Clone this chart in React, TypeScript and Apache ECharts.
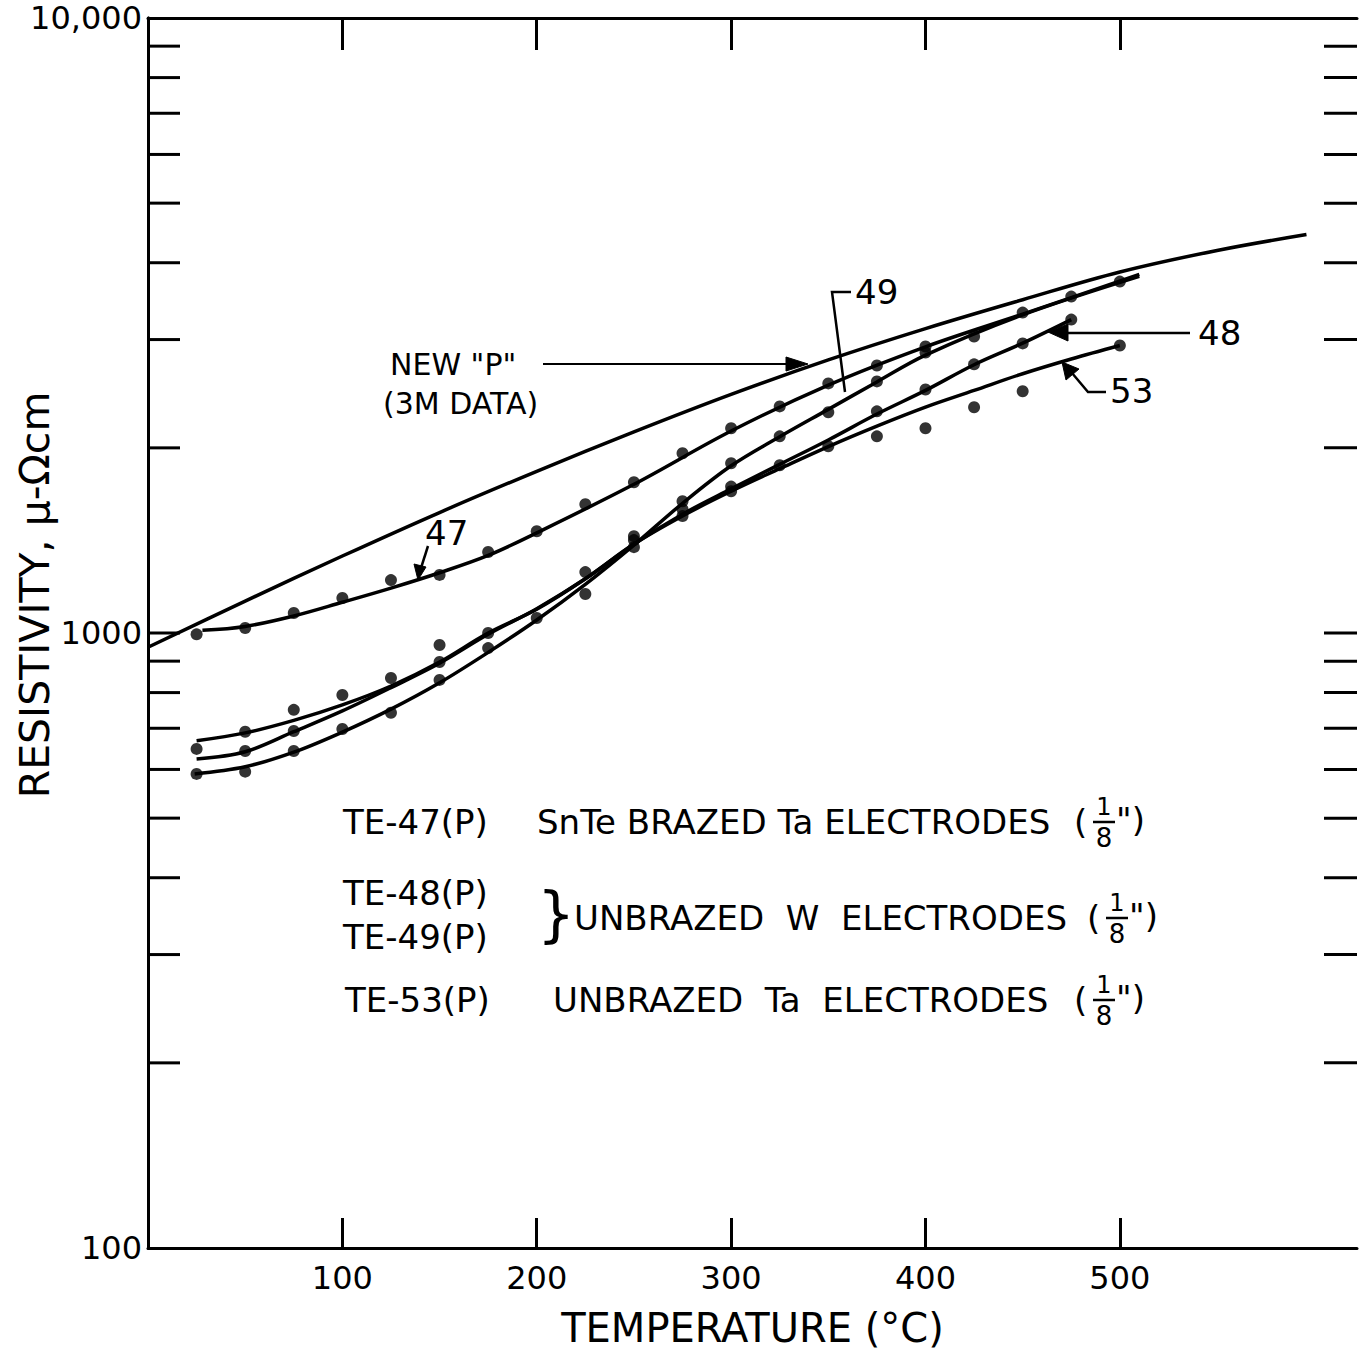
import React, { useEffect, useRef } from "react";
import * as echarts from "echarts";

const FONT = "'DejaVu Sans', 'Liberation Sans', sans-serif";
const X_MIN = 0;
const X_MAX = 622;
const xTickValues = [100, 200, 300, 400, 500];
const yTickValues = [200, 300, 400, 500, 600, 700, 800, 900, 1000, 2000, 3000, 4000, 5000, 6000, 7000, 8000, 9000];

// ---- fitted curves (temperature °C, resistivity µΩ·cm) ----
const newPTemps = [0, 50, 100, 150, 200, 250, 300, 350, 400, 450, 500, 550, 596];
const newPRes = [948, 1127, 1334, 1570, 1832, 2123, 2443, 2780, 3126, 3483, 3864, 4188, 4446];

const te47CurveTemps = [28, 50, 75, 100, 125, 150, 175, 200, 250, 300, 350, 400, 450, 510];
const te47CurveRes = [1010, 1025, 1066, 1122, 1183, 1253, 1337, 1455, 1745, 2130, 2530, 2920, 3300, 3830];

const te49CurveTemps = [24, 50, 75, 100, 125, 150, 175, 200, 225, 250, 275, 300, 325, 350, 375, 400, 450, 510];
const te49CurveRes = [590, 606, 640, 690, 752, 830, 930, 1050, 1200, 1390, 1625, 1870, 2085, 2310, 2560, 2830, 3290, 3800];

const te48CurveTemps = [25, 50, 75, 100, 125, 150, 175, 200, 225, 250, 275, 300, 325, 350, 375, 400, 425, 450, 475];
const te48CurveRes = [624, 641, 691, 747, 815, 893, 995, 1095, 1225, 1395, 1560, 1715, 1880, 2060, 2270, 2480, 2730, 2960, 3233];

const te53CurveTemps = [25, 50, 75, 100, 125, 150, 175, 200, 225, 250, 275, 300, 325, 350, 375, 400, 425, 450, 475, 500];
const te53CurveRes = [668, 688, 721, 764, 820, 897, 1000, 1093, 1225, 1395, 1550, 1700, 1850, 2010, 2170, 2330, 2480, 2640, 2790, 2934];

// ---- measured points ----
const te47PtTemps = [25, 50, 75, 100, 125, 150, 175, 200, 225, 250, 275, 300, 325, 350, 375, 400, 425, 450, 475, 500];
const te47PtRes = [995, 1019, 1078, 1140, 1219, 1243, 1354, 1464, 1620, 1758, 1960, 2152, 2336, 2546, 2723, 2923, 3035, 3319, 3524, 3727];

const te48PtTemps = [25, 50, 75, 150, 250, 275, 300, 325, 375, 400, 425, 450, 475];
const te48PtRes = [648, 643, 693, 956, 1437, 1590, 1730, 1874, 2293, 2489, 2734, 2957, 3233];

const te49PtTemps = [25, 50, 75, 100, 125, 150, 175, 200, 225, 250, 275, 300, 325, 350, 375, 400];
const te49PtRes = [590, 595, 643, 698, 742, 839, 945, 1058, 1157, 1379, 1638, 1888, 2088, 2285, 2565, 2858];

const te53PtTemps = [50, 75, 100, 125, 150, 175, 225, 250, 275, 300, 350, 375, 400, 425, 450, 500];
const te53PtRes = [691, 750, 793, 845, 897, 1000, 1256, 1416, 1549, 1700, 2012, 2088, 2152, 2328, 2472, 2934];

const pairs = (t: number[], v: number[]) => t.map((x, i) => [x, v[i]]);

const lineSeries = (name: string, t: number[], v: number[]) => ({
  name,
  type: "line",
  data: pairs(t, v),
  smooth: 0.35,
  showSymbol: false,
  symbol: "none",
  lineStyle: { color: "#000", width: 3.5 },
  silent: true,
  z: 3,
});

const pointSeries = (name: string, t: number[], v: number[]) => ({
  name,
  type: "scatter",
  data: pairs(t, v),
  symbol: "circle",
  symbolSize: 12,
  itemStyle: { color: "#000" },
  silent: true,
  z: 4,
});

const txt = (x: number, y: number, text: string, size: number, align = "left", extra: any = {}) => ({
  type: "text",
  x,
  y,
  ...extra,
  style: {
    text,
    fontSize: size,
    fontFamily: FONT,
    fill: "#000",
    align,
    verticalAlign: "middle",
  },
  z: 100,
});

const poly = (points: number[][], w = 2.5) => ({
  type: "polyline",
  shape: { points },
  style: { stroke: "#000", lineWidth: w, fill: "none" },
  z: 100,
});

const tri = (points: number[][]) => ({
  type: "polygon",
  shape: { points },
  style: { fill: "#000", stroke: "#000", lineWidth: 1 },
  z: 100,
});

const frac = (x0: number, y: number) => [
  txt(x0, y, "(", 34),
  txt(x0 + 30, y - 15, "1", 24, "center"),
  poly([[x0 + 19, y], [x0 + 41, y]], 2.5),
  txt(x0 + 30, y + 16, "8", 26, "center"),
  txt(x0 + 42, y - 2, "\")", 34),
];

export default function App() {
  const ref = useRef<HTMLDivElement>(null);

  useEffect(() => {
    if (!ref.current) return;
    const chart = echarts.init(ref.current, undefined, { renderer: "svg" });

    const axisLine = { show: true, lineStyle: { color: "#000", width: 3 } };

    chart.setOption({
      animation: false,
      backgroundColor: "#fff",
      grid: { left: 148, right: 12, top: 18, bottom: 106, containLabel: false, outerBoundsMode: "none" },
      xAxis: [
        {
          type: "value",
          min: X_MIN,
          max: X_MAX,
          position: "bottom",
          axisLine,
          axisTick: {
            show: true,
            inside: true,
            length: 30,
            customValues: xTickValues,
            lineStyle: { color: "#000", width: 3 },
          },
          axisLabel: {
            customValues: xTickValues,
            fontSize: 32,
            fontFamily: FONT,
            color: "#000",
            margin: 14,
          },
          splitLine: { show: false },
          name: "TEMPERATURE (°C)",
          nameLocation: "middle",
          nameGap: 80,
          nameTextStyle: { fontSize: 40, fontFamily: FONT, color: "#000", verticalAlign: "middle" },
        },
        {
          type: "value",
          min: X_MIN,
          max: X_MAX,
          position: "top",
          axisLine,
          axisTick: {
            show: true,
            inside: true,
            length: 32,
            customValues: xTickValues,
            lineStyle: { color: "#000", width: 3 },
          },
          axisLabel: { show: false },
          splitLine: { show: false },
        },
      ],
      yAxis: [
        {
          type: "log",
          logBase: 10,
          min: 100,
          max: 10000,
          position: "left",
          axisLine,
          axisTick: { show: false },
          axisLabel: {
            fontSize: 32,
            fontFamily: FONT,
            color: "#000",
            margin: 6,
            formatter: (v: number) => (Math.round(v) === 10000 ? "10,000" : String(Math.round(v))),
          },
          splitLine: { show: false },
          minorTick: { show: false },
        },
        {
          type: "log",
          logBase: 10,
          min: 100,
          max: 10000,
          position: "right",
          axisLine,
          axisTick: { show: false },
          axisLabel: { show: false },
          splitLine: { show: false },
        },
      ],
      series: [
        {
          type: "custom",
          name: "yTicks",
          data: yTickValues.map((v) => [X_MIN, v]),
          silent: true,
          clip: false,
          z: 5,
          renderItem: (_params: any, api: any) => {
            const v = api.value(1);
            const l = api.coord([X_MIN, v]);
            const r = api.coord([X_MAX, v]);
            return {
              type: "group",
              children: [
                { type: "line", shape: { x1: l[0], y1: l[1], x2: l[0] + 32, y2: l[1] }, style: { stroke: "#000", lineWidth: 3 } },
                { type: "line", shape: { x1: r[0] - 33, y1: r[1], x2: r[0], y2: r[1] }, style: { stroke: "#000", lineWidth: 3 } },
              ],
            };
          },
        },
        lineSeries('NEW "P" (3M DATA)', newPTemps, newPRes),
        lineSeries("TE-47 fit", te47CurveTemps, te47CurveRes),
        lineSeries("TE-48 fit", te48CurveTemps, te48CurveRes),
        lineSeries("TE-49 fit", te49CurveTemps, te49CurveRes),
        lineSeries("TE-53 fit", te53CurveTemps, te53CurveRes),
        pointSeries("TE-47(P)", te47PtTemps, te47PtRes),
        pointSeries("TE-48(P)", te48PtTemps, te48PtRes),
        pointSeries("TE-49(P)", te49PtTemps, te49PtRes),
        pointSeries("TE-53(P)", te53PtTemps, te53PtRes),
      ],
      graphic: [
        txt(35, 595, "RESISTIVITY, μ-Ωcm", 41, "center", { rotation: Math.PI / 2 }),
        // NEW "P"
        txt(390, 364, 'NEW "P"', 30),
        txt(383, 403, "(3M DATA)", 30),
        poly([[543, 364], [792, 364]], 2),
        tri([[808, 364], [786, 357], [786, 371]]),
        // 49
        txt(855, 292, "49", 34),
        poly([[851, 292], [832, 292], [845, 392]], 2.5),
        // 48
        txt(1198, 333, "48", 34),
        poly([[1190, 333], [1064, 333]], 2.5),
        tri([[1048, 332], [1068, 324], [1068, 341]]),
        // 53
        txt(1110, 391, "53", 34),
        poly([[1106, 392], [1088, 392], [1072, 373]], 2.5),
        tri([[1062, 362], [1066, 380], [1079, 369]]),
        // 47
        txt(425, 533, "47", 34),
        poly([[428, 546], [421, 568]], 2.5),
        tri([[418, 580], [414, 564], [426, 567]]),
        // notes
        txt(343, 822, "TE-47(P)", 34),
        txt(537, 822, "SnTe BRAZED Ta ELECTRODES", 34),
        ...frac(1074, 822),
        txt(343, 893, "TE-48(P)", 34),
        txt(343, 937, "TE-49(P)", 34),
        txt(537, 914, "}", 60),
        txt(574, 918, "UNBRAZED  W  ELECTRODES", 34),
        ...frac(1087, 918),
        txt(345, 1000, "TE-53(P)", 34),
        txt(553, 1000, "UNBRAZED  Ta  ELECTRODES", 34),
        ...frac(1074, 1000),
      ],
    });

    return () => chart.dispose();
  }, []);

  return (
    <div
      ref={ref}
      style={{ position: "absolute", left: 0, top: 0, width: 1369, height: 1354, background: "#fff" }}
    />
  );
}
